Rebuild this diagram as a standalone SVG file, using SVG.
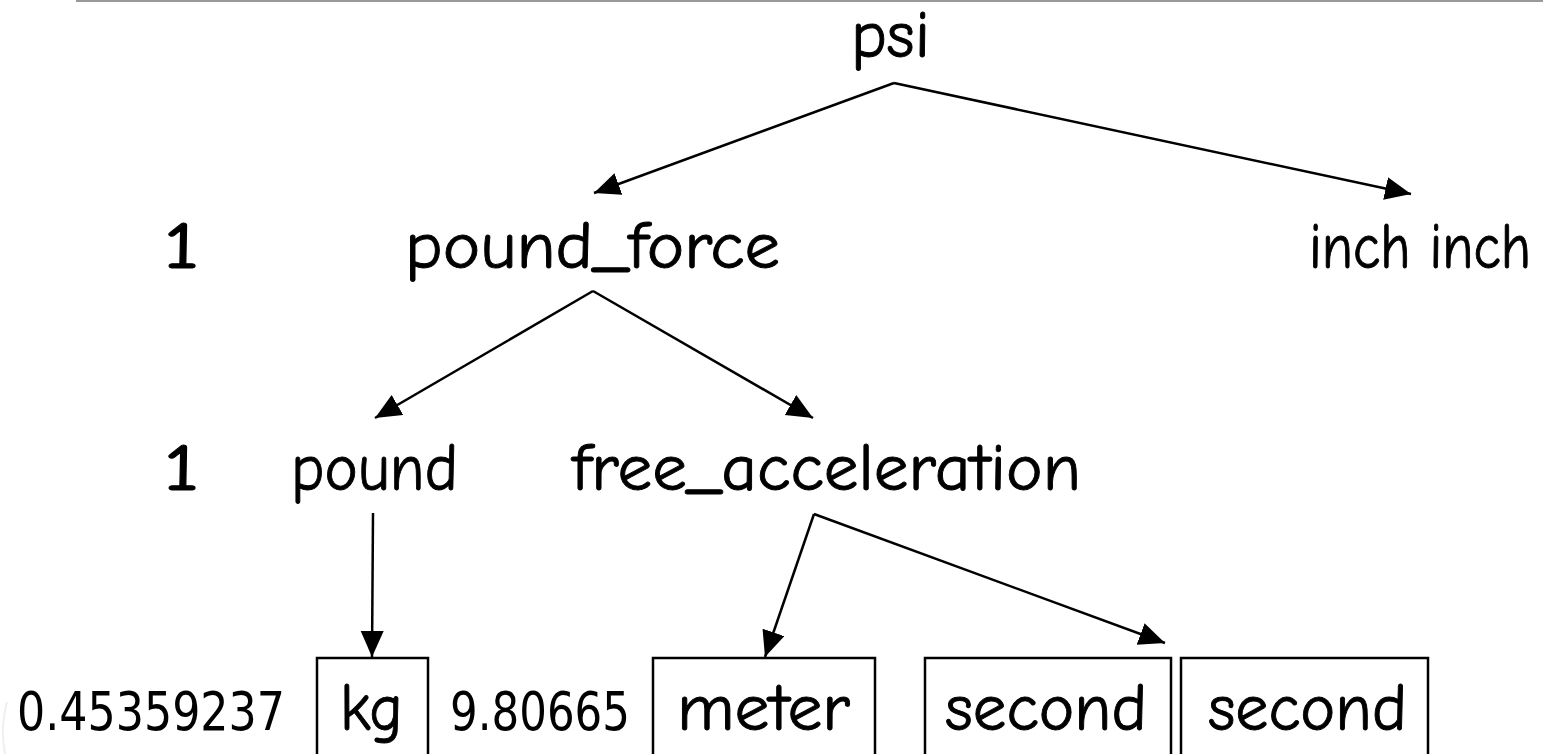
<svg xmlns="http://www.w3.org/2000/svg" width="1543" height="754" viewBox="0 0 1543 754">
  <style>
    .lbl { font-family: "Comic Sans MS", "Comic Neue", "DejaVu Sans", sans-serif; font-size: 66px; fill: #000; stroke: #000; stroke-width: 0.9; }
    .num { font-family: "Comic Sans MS", "DejaVu Sans", sans-serif; font-size: 54px; fill: #000; }
    .box { fill: none; stroke: #000; stroke-width: 2.5; }
    .edge { stroke: #000; stroke-width: 2.5; fill: none; marker-end: url(#head); }
  </style>
  <defs>
    <marker id="head" markerUnits="userSpaceOnUse" markerWidth="27" markerHeight="24" refX="26" refY="11.5" orient="auto">
      <path d="M0,0 L26,11.5 L0,23 z" fill="#000"/>
    </marker>
  </defs>
  <rect width="1543" height="754" fill="#fff"/>
  <!-- page rule and margin mark -->
  <line x1="76" y1="1" x2="1543" y2="1" stroke="#999" stroke-width="2"/>
  <path d="M7,702 Q0,728 5,754" stroke="#efefef" stroke-width="2" fill="none"/>

  <g id="psi"><text class="lbl" x="851" y="57" textLength="79" lengthAdjust="spacingAndGlyphs">psi</text></g>

  <g id="factor-1a"><text class="lbl" x="163" y="268" textLength="37" lengthAdjust="spacingAndGlyphs">1</text></g>
  <g id="pound_force"><text class="lbl" x="405" y="268" textLength="375" lengthAdjust="spacingAndGlyphs">pound_force</text></g>
  <g id="inch_inch"><text class="lbl" x="1309" y="268" textLength="222" lengthAdjust="spacingAndGlyphs" style="font-size:64px">inch inch</text></g>

  <g id="factor-1b"><text class="lbl" x="163" y="490" textLength="37" lengthAdjust="spacingAndGlyphs">1</text></g>
  <g id="pound"><text class="lbl" x="291" y="490" textLength="167" lengthAdjust="spacingAndGlyphs">pound</text></g>
  <g id="free_acceleration"><text class="lbl" x="572" y="490" textLength="509" lengthAdjust="spacingAndGlyphs">free_acceleration</text></g>

  <g id="factor-kg"><text class="num" x="17" y="730" textLength="268" lengthAdjust="spacingAndGlyphs">0.45359237</text></g>
  <g id="kg">
    <rect class="box" x="317" y="658" width="111" height="110"/>
    <text class="lbl" x="340" y="730" textLength="63" lengthAdjust="spacingAndGlyphs">kg</text>
  </g>
  <g id="factor-g"><text class="num" x="450" y="730" textLength="180" lengthAdjust="spacingAndGlyphs">9.80665</text></g>
  <g id="meter">
    <rect class="box" x="653" y="658" width="222" height="110"/>
    <text class="lbl" x="677" y="730" textLength="173" lengthAdjust="spacingAndGlyphs">meter</text>
  </g>
  <g id="second-1">
    <rect class="box" x="925" y="658" width="246" height="110"/>
    <text class="lbl" x="945" y="730" textLength="202" lengthAdjust="spacingAndGlyphs">second</text>
  </g>
  <g id="second-2">
    <rect class="box" x="1181" y="658" width="247" height="110"/>
    <text class="lbl" x="1208" y="730" textLength="199" lengthAdjust="spacingAndGlyphs">second</text>
  </g>

  <g id="connectors">
    <line class="edge" x1="894" y1="83" x2="594" y2="193"/>
    <line class="edge" x1="894" y1="83" x2="1411" y2="194"/>
    <line class="edge" x1="593" y1="291" x2="375" y2="418"/>
    <line class="edge" x1="593" y1="291" x2="813" y2="418"/>
    <line class="edge" x1="373" y1="513" x2="372" y2="657"/>
    <line class="edge" x1="814" y1="514" x2="765" y2="657"/>
    <line class="edge" x1="814" y1="514" x2="1165" y2="643"/>
  </g>
</svg>
